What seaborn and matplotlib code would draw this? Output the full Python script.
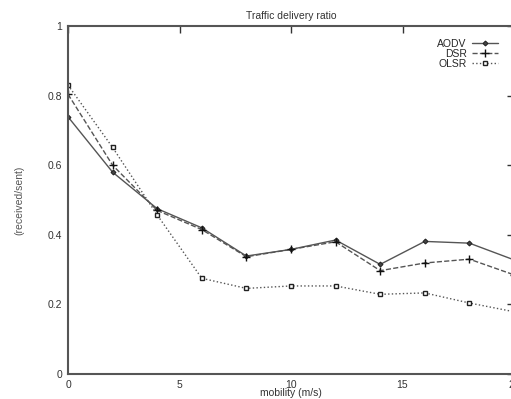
import pandas as pd
import matplotlib.pyplot as plt
import seaborn as sns

# mobility (m/s)
speed = [0, 2, 4, 6, 8, 10, 12, 14, 16, 18, 20]

aodv = [0.739, 0.580, 0.475, 0.420, 0.339, 0.358, 0.385, 0.315, 0.381, 0.376, 0.328]
dsr = [0.804, 0.600, 0.470, 0.415, 0.337, 0.358, 0.380, 0.297, 0.319, 0.330, 0.285]
olsr = [0.830, 0.651, 0.457, 0.275, 0.246, 0.253, 0.253, 0.229, 0.233, 0.204, 0.179]

protocols = ["AODV", "DSR", "OLSR"]
xticks = [0, 5, 10, 15, 20]
yticks = [0, 0.2, 0.4, 0.6, 0.8, 1]

df = pd.DataFrame({"speed": speed, "AODV": aodv, "DSR": dsr, "OLSR": olsr})
df = df.melt(id_vars="speed", var_name="protocol", value_name="ratio")

sns.set_style("white")
plt.rcParams["font.family"] = ["Liberation Sans", "DejaVu Sans"]

fig = plt.figure(figsize=(5.11, 3.99), dpi=100)
ax = fig.add_axes([68 / 511, 1 - 374 / 399, (514 - 68) / 511, 348 / 399])

styles = {
    "AODV": dict(marker="D", linestyle="-", markersize=2.5, mfc="#444444", mec="#222222"),
    "DSR": dict(marker="+", linestyle="--", markersize=5.5, mec="#111111", mew=1.0),
    "OLSR": dict(marker="s", linestyle=":", markersize=3.5, mfc="white", mec="#222222", mew=1.0),
}

for p in protocols:
    sub = df[df["protocol"] == p]
    sns.lineplot(data=sub, x="speed", y="ratio", ax=ax, color="#555555",
                 linewidth=1.0, label=p, **styles[p])

ax.set_xlim(0, 20)
ax.set_ylim(0, 1)
ax.set_xticks(xticks)
ax.set_yticks(yticks)
ax.set_yticklabels(["0", "0.2", "0.4", "0.6", "0.8", "1"])

for s in ax.spines.values():
    s.set_color("#555555")
    s.set_linewidth(1.5)

ax.tick_params(direction="in", length=5, width=1, color="#333333",
               top=True, right=True, labelsize=7.5, labelcolor="#333333", pad=4)

ax.set_title("Traffic delivery ratio", fontsize=7.5, color="#333333", pad=5)
ax.set_xlabel("mobility (m/s)", fontsize=7.5, color="#333333", labelpad=-1)
ax.set_ylabel("(received/sent)", fontsize=7.5, color="#555555", labelpad=17)

leg = ax.legend(loc="upper right", bbox_to_anchor=(0.98, 0.985), frameon=False,
                markerfirst=False, fontsize=7.5, labelspacing=0.0,
                handlelength=2.5, handletextpad=0.5, borderpad=0.2)

fig.savefig("out.png", dpi=100)
